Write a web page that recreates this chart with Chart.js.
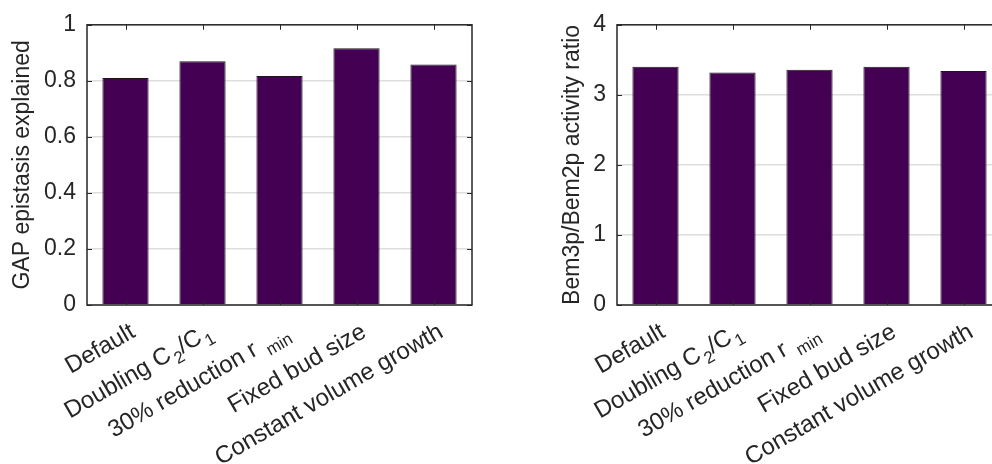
<!DOCTYPE html>
<html>
<head>
<meta charset="utf-8">
<script src="https://cdn.jsdelivr.net/npm/chart.js@4"></script>
<style>
  html, body { margin: 0; padding: 0; background: #fff; overflow: hidden; }
  body { width: 992px; height: 464px; position: relative; }
  canvas { position: absolute; top: 0; }
  #left { left: 0; }
  #right { left: 550px; }
</style>
</head>
<body>
<canvas id="left" width="490" height="464"></canvas>
<canvas id="right" width="470" height="464"></canvas>
<script>
// "_x" or "_{xyz}" marks a subscript
const categories = ["Default", "Doubling C_2/C_1", "30% reduction r _{min}", "Fixed bud size", "Constant volume growth"];
const epistasisExplained = [0.81, 0.87, 0.817, 0.916, 0.858];
const activityRatio = [3.40, 3.32, 3.36, 3.40, 3.34];
const leftTicks = { min: 0, max: 1, step: 0.2 };
const rightTicks = { min: 0, max: 4, step: 1 };

const FONT = "'Liberation Sans', Arial, Helvetica, sans-serif";
const TEXT = "#262626";
const BAR = "#440154";
const LABEL_SIZE = 24;
const SUB_SIZE = 17;

function parseLabel(s) {
  const parts = [];
  const re = /_(\{[^}]*\}|.)/g;
  let last = 0, m;
  while ((m = re.exec(s)) !== null) {
    if (m.index > last) parts.push({ t: s.slice(last, m.index), sub: false });
    parts.push({ t: m[1].replace(/[{}]/g, ""), sub: true });
    last = re.lastIndex;
  }
  if (last < s.length) parts.push({ t: s.slice(last), sub: false });
  return parts;
}

const matlabAxes = {
  id: "matlabAxes",
  afterDatasetsDraw(chart) {
    const { ctx, chartArea: a, scales: { x, y } } = chart;
    ctx.save();
    // inward tick marks
    ctx.strokeStyle = TEXT;
    ctx.lineWidth = 1;
    ctx.beginPath();
    x.ticks.forEach((t, i) => {
      const px = Math.round(x.getPixelForTick(i)) + 0.5;
      ctx.moveTo(px, a.bottom); ctx.lineTo(px, a.bottom - 5);
      ctx.moveTo(px, a.top); ctx.lineTo(px, a.top + 5);
    });
    y.ticks.forEach((t, i) => {
      const py = Math.round(y.getPixelForTick(i)) + 0.5;
      ctx.moveTo(a.left, py); ctx.lineTo(a.left + 5, py);
      ctx.moveTo(a.right, py); ctx.lineTo(a.right - 5, py);
    });
    ctx.stroke();
    // box
    ctx.lineWidth = 1.5;
    ctx.strokeRect(a.left, a.top, a.width, a.height);

    // rotated category labels with subscripts
    ctx.fillStyle = TEXT;
    ctx.textBaseline = "alphabetic";
    ctx.textAlign = "left";
    chart.data.labels.forEach((lab, i) => {
      const parts = parseLabel(lab);
      let w = 0;
      parts.forEach(p => {
        ctx.font = (p.sub ? SUB_SIZE : LABEL_SIZE) + "px " + FONT;
        p.w = ctx.measureText(p.t).width + (p.sub ? 2 : 0);
        w += p.w;
      });
      ctx.save();
      ctx.translate(x.getPixelForTick(i) + 11, a.bottom + 31);
      ctx.rotate(-Math.PI / 6);
      let cx = -w;
      parts.forEach(p => {
        ctx.font = (p.sub ? SUB_SIZE : LABEL_SIZE) + "px " + FONT;
        ctx.fillText(p.t, cx + (p.sub ? 2 : 0), p.sub ? 7 : 0);
        cx += p.w;
      });
      ctx.restore();
    });
    ctx.restore();
  }
};

function makeChart(id, values, yt, title, axisWidth) {
  new Chart(document.getElementById(id), {
    type: "bar",
    data: {
      labels: categories,
      datasets: [{
        data: values,
        backgroundColor: BAR,
        borderColor: "#1a1a1a",
        borderWidth: 1,
        categoryPercentage: 1,
        barPercentage: 0.6
      }]
    },
    options: {
      responsive: false,
      animation: false,
      layout: { padding: { top: 17, right: 18, left: 0, bottom: 0 } },
      plugins: { legend: { display: false }, tooltip: { enabled: false } },
      scales: {
        x: {
          ticks: { display: false },
          grid: { display: false },
          border: { display: false },
          afterFit(scale) { scale.height = 159; }
        },
        y: {
          min: yt.min,
          max: yt.max,
          ticks: {
            stepSize: yt.step,
            padding: 11,
            color: TEXT,
            font: { family: FONT, size: 23 },
            callback: v => String(+v.toFixed(1))
          },
          grid: { color: "#dedede", lineWidth: 1.5, drawTicks: false },
          border: { display: false },
          title: {
            display: true,
            text: title,
            color: TEXT,
            font: { family: FONT, size: 23 },
            padding: { top: 9, bottom: 0 }
          },
          afterFit(scale) { scale.width = axisWidth; }
        }
      }
    },
    plugins: [matlabAxes]
  });
}

makeChart("left", epistasisExplained, leftTicks, "GAP epistasis explained", 87);
makeChart("right", activityRatio, rightTicks, "Bem3p/Bem2p activity ratio", 67);
</script>
</body>
</html>
